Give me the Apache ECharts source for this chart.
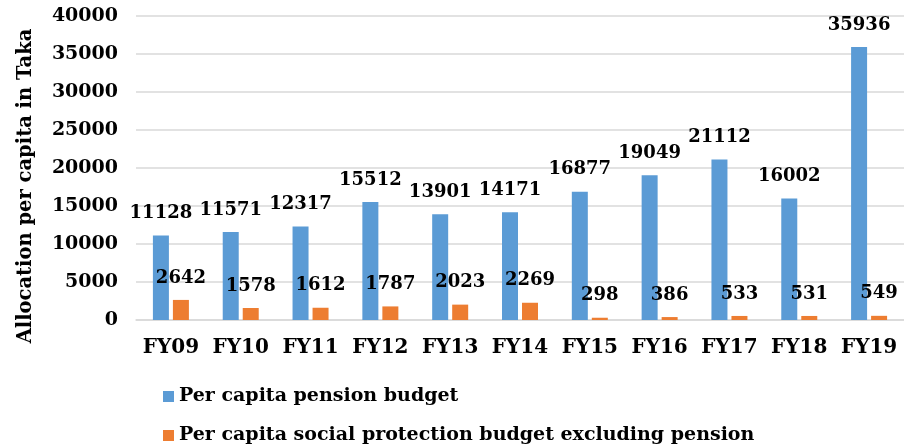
<!DOCTYPE html>
<html lang="en">
	<head>
		<meta charset="UTF-8">
		<title>Per capita allocation</title>
		<script src="https://cdn.jsdelivr.net/npm/echarts@6/dist/echarts.min.js"></script>
		<style>
			body { margin: 0; background: #fff; }
			#main { width: 904px; height: 445px; }
		</style>
	</head>
	<body>
		<div id="main"></div>
	</body>
	<script>
		const years = ["FY09", "FY10", "FY11", "FY12", "FY13", "FY14", "FY15", "FY16", "FY17", "FY18", "FY19"];
		const pension = [11128, 11571, 12317, 15512, 13901, 14171, 16877, 19049, 21112, 16002, 35936];
		const socialExclPension = [2642, 1578, 1612, 1787, 2023, 2269, 298, 386, 533, 531, 549];
		const seriesNames = ["Per capita pension budget", "Per capita social protection budget excluding pension"];

		const font = "'DejaVu Serif', Georgia, serif";
		const dataLabel = {
			show: true,
			position: "top",
			distance: 13,
			fontFamily: font,
			fontWeight: "bold",
			fontSize: 18,
			color: "#000"
		};
		const legendBase = {
			left: 158,
			itemWidth: 11,
			itemHeight: 11,
			icon: "rect",
			textStyle: { fontFamily: font, fontWeight: "bold", fontSize: 19, color: "#000" }
		};

		let option = {
			animation: false,
			textStyle: { fontFamily: font },
			grid: { left: 136, top: 16, width: 773, height: 304 },
			legend: [
				Object.assign({ top: 382, data: [seriesNames[0]] }, legendBase),
				Object.assign({ top: 421, data: [seriesNames[1]] }, legendBase)
			],
			xAxis: {
				type: "category",
				data: years,
				axisTick: { show: false },
				axisLine: { lineStyle: { color: "#d9d9d9", width: 1.5 } },
				axisLabel: { interval: 0, margin: 18, fontFamily: font, fontWeight: "bold", fontSize: 20, color: "#000" }
			},
			yAxis: {
				type: "value",
				min: 0,
				max: 40000,
				interval: 5000,
				name: "Allocation per capita in Taka",
				nameLocation: "middle",
				nameGap: 100,
				nameTextStyle: {
					fontFamily: font,
					fontWeight: "bold",
					fontSize: 19.5,
					color: "#000",
					padding: [0, 36, 0, 0]
				},
				axisLabel: {
					margin: 18,
					fontFamily: font,
					fontWeight: "bold",
					fontSize: 19,
					color: "#000",
					formatter: (v) => String(v)
				},
				splitLine: { lineStyle: { color: "#d9d9d9", width: 1.5 } }
			},
			series: [
				{
					name: seriesNames[0],
					type: "bar",
					data: pension,
					barWidth: 16,
					barGap: "25%",
					itemStyle: { color: "#5B9BD5" },
					label: dataLabel
				},
				{
					name: seriesNames[1],
					type: "bar",
					data: socialExclPension,
					barWidth: 16,
					itemStyle: { color: "#ED7D31" },
					label: dataLabel
				}
			]
		};

		let echart = echarts.init(document.getElementById("main"));
		echart.setOption(option);
	</script>
</html>
